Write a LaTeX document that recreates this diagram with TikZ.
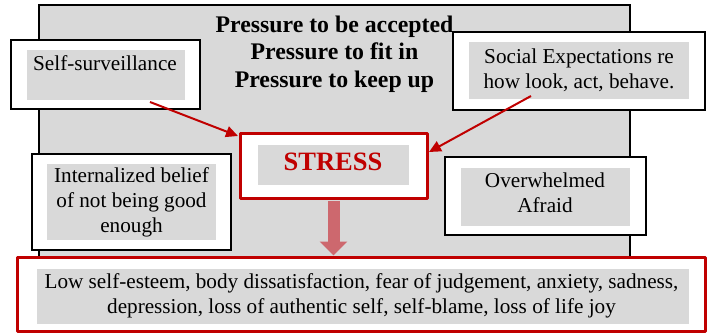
\documentclass[tikz,border=0pt]{standalone}
\usepackage{fontspec}
\setmainfont{Liberation Serif}
\usetikzlibrary{arrows.meta}
\definecolor{boxgray}{RGB}{217,217,217}
\definecolor{dred}{RGB}{192,0,0}
\definecolor{pinkarrow}{RGB}{205,104,110}
\begin{document}
\begin{tikzpicture}[x=1pt,y=-1pt,
  bgbox/.style={draw=black, line width=1.5pt, fill=boxgray, inner sep=0pt},
  outerbox/.style={draw=black, line width=1.3pt, fill=white, inner sep=0pt},
  redbox/.style={draw=dred, line width=3pt, fill=white, inner sep=0pt, line join=round},
  graybox/.style={fill=boxgray, inner sep=0pt},
  bodytext/.style={inner sep=0pt, anchor=base, align=center, font=\fontsize{21.2}{25}\selectfont},
  titletext/.style={inner sep=0pt, anchor=base, align=center, font=\bfseries\fontsize{23.8}{27.5}\selectfont},
  stresstext/.style={inner sep=0pt, anchor=base, text=dred, font=\bfseries\fontsize{26.5}{30}\selectfont},
  redarrow/.style={draw=dred, line width=2pt, -{Triangle[length=12pt,width=11pt]}},
  blockarrow/.style={draw=pinkarrow, line width=12pt, -{Triangle[length=14pt,width=27pt]}}
]
\useasboundingbox (0,0) rectangle (712,332);
% background panel
\node[bgbox, minimum width=591pt, minimum height=260pt] (bg) at (334.5,135) {};
% title (anchored at last line's baseline)
\node[titletext] (title) at (334.5,87) {Pressure to be accepted\\Pressure to fit in\\Pressure to keep up};
% self-surveillance
\node[outerbox, minimum width=189pt, minimum height=69pt] (ss) at (105.5,74.5) {};
\node[graybox, minimum width=158pt, minimum height=50pt] (ssg) at (106,75) {};
\node[bodytext] (sst) at (105,70) {Self-surveillance};
% social expectations
\node[outerbox, minimum width=252pt, minimum height=78pt] (soc) at (579,71) {};
\node[graybox, minimum width=220pt, minimum height=57pt] (socg) at (579,70.5) {};
\node[bodytext] (soct) at (579,88) {Social Expectations re\\how look, act, behave.};
% internalized belief
\node[outerbox, minimum width=199pt, minimum height=96pt] (int) at (131.5,202) {};
\node[graybox, minimum width=169pt, minimum height=76pt] (intg) at (131.5,202) {};
\node[bodytext] (intt) at (131.5,232) {Internalized belief\\of not being good\\enough};
% overwhelmed
\node[outerbox, minimum width=201pt, minimum height=78pt] (ov) at (545.5,196) {};
\node[graybox, minimum width=169pt, minimum height=58pt] (ovg) at (545.5,197) {};
\node[bodytext] (ovt) at (545,212) {Overwhelmed\\Afraid};
% stress
\node[redbox, minimum width=187pt, minimum height=65pt] (stress) at (333.5,165.5) {};
\node[graybox, minimum width=151pt, minimum height=40pt] (stressg) at (333.5,165) {};
\node[stresstext] (stresst) at (333,170) {STRESS};
% results
\node[redbox, minimum width=688pt, minimum height=74pt] (res) at (361,294) {};
\node[graybox, minimum width=652pt, minimum height=55pt] (resg) at (363,296.5) {};
\node[bodytext] (rest) at (361.5,313) {Low self-esteem, body dissatisfaction, fear of judgement, anxiety, sadness,\\depression, loss of authentic self, self-blame, loss of life joy};
% arrows
\coordinate (a1s) at (150,102);
\coordinate (a1e) at (238,136);
\coordinate (a2s) at (531,96);
\coordinate (a2e) at (429,152);
\draw[redarrow] (a1s) -- (a1e);
\draw[redarrow] (a2s) -- (a2e);
\draw[blockarrow] ([yshift=-1.5pt]stress.south) -- (stress.south |- res.north);
\end{tikzpicture}
\end{document}
